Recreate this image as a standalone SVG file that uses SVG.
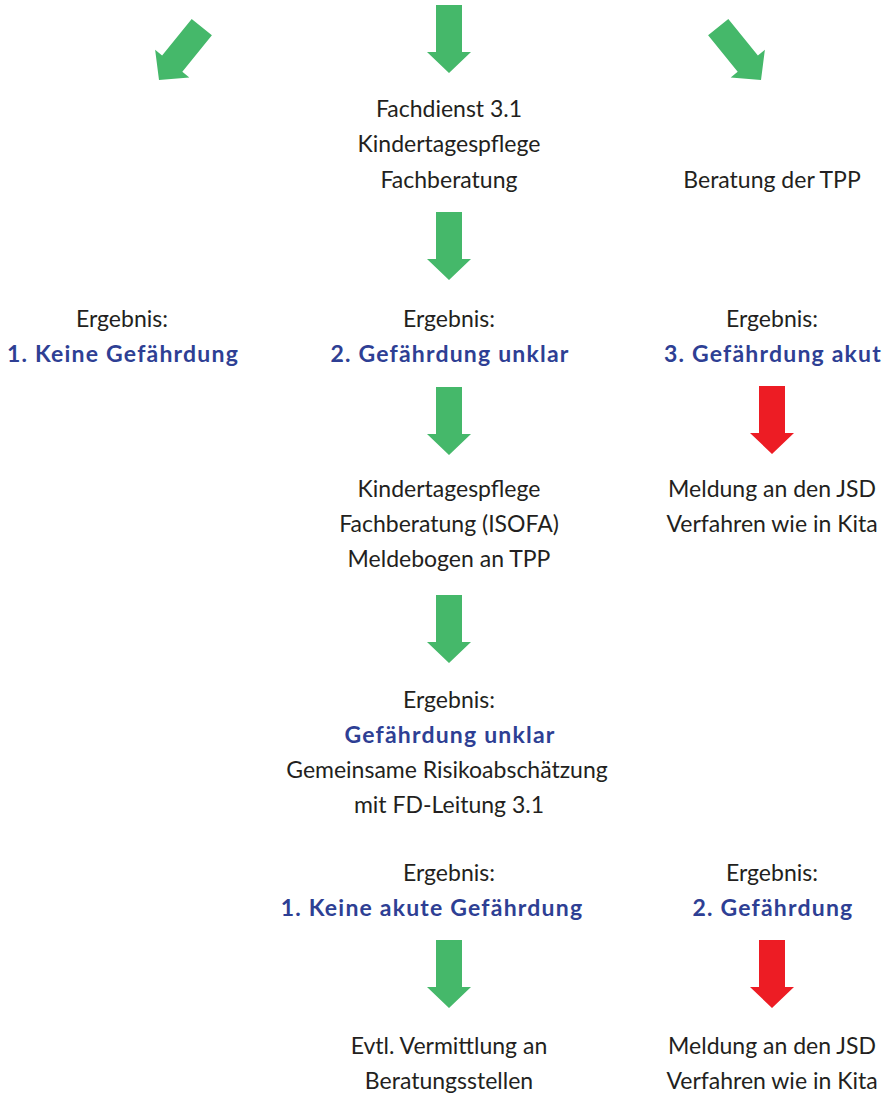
<svg xmlns="http://www.w3.org/2000/svg" width="890" height="1093" viewBox="0 0 890 1093">
<defs>
<style>
text{font-family:Lato,"Open Sans","Liberation Sans",sans-serif;font-size:23px;fill:#231f20;text-anchor:middle}
.b{font-weight:bold;fill:#2e3f94;letter-spacing:1.2px}
.g{fill:#45b86a}
.r{fill:#ed1c24}
</style>
<path id="arr" d="M-13,-68 H13 V-21 H22 L0,0 L-22,-21 H-13 Z"/>
</defs>
<rect width="890" height="1093" fill="#fff"/>
<g id="connectors">
<use href="#arr" class="g" transform="translate(159,80) rotate(39)"/>
<use href="#arr" class="g" transform="translate(449,73)"/>
<use href="#arr" class="g" transform="translate(761,80) rotate(-39)"/>
<use href="#arr" class="g" transform="translate(449,280)"/>
<use href="#arr" class="g" transform="translate(449,455)"/>
<use href="#arr" class="r" transform="translate(772,454)"/>
<use href="#arr" class="g" transform="translate(449,663)"/>
<use href="#arr" class="g" transform="translate(449,1008)"/>
<use href="#arr" class="r" transform="translate(772,1008)"/>
</g>
<g id="fachdienst"><text x="449" y="117">Fachdienst 3.1</text><text x="449" y="152">Kindertagespflege</text><text x="449" y="188">Fachberatung</text></g>
<g id="beratung-tpp"><text x="772" y="188">Beratung der TPP</text></g>
<g id="ergebnis1"><text x="122" y="327">Ergebnis:</text><text x="123" y="362" class="b">1. Keine Gefährdung</text></g>
<g id="ergebnis2"><text x="449" y="327">Ergebnis:</text><text x="450" y="362" class="b">2. Gefährdung unklar</text></g>
<g id="ergebnis3"><text x="772" y="327">Ergebnis:</text><text x="773" y="362" class="b">3. Gefährdung akut</text></g>
<g id="isofa"><text x="449" y="497">Kindertagespflege</text><text x="449" y="532">Fachberatung (ISOFA)</text><text x="449" y="567">Meldebogen an TPP</text></g>
<g id="meldung1"><text x="772" y="497">Meldung an den JSD</text><text x="772" y="532">Verfahren wie in Kita</text></g>
<g id="unklar"><text x="449" y="708">Ergebnis:</text><text x="450" y="743" class="b">Gefährdung unklar</text><text x="447" y="778">Gemeinsame Risikoabschätzung</text><text x="449" y="813">mit FD-Leitung 3.1</text></g>
<g id="keine-akute"><text x="449" y="881">Ergebnis:</text><text x="432" y="916" class="b">1. Keine akute Gefährdung</text></g>
<g id="gefaehrdung"><text x="772" y="881">Ergebnis:</text><text x="773" y="916" class="b">2. Gefährdung</text></g>
<g id="vermittlung"><text x="449" y="1054">Evtl. Vermittlung an</text><text x="449" y="1089">Beratungsstellen</text></g>
<g id="meldung2"><text x="772" y="1054">Meldung an den JSD</text><text x="772" y="1089">Verfahren wie in Kita</text></g>
</svg>
